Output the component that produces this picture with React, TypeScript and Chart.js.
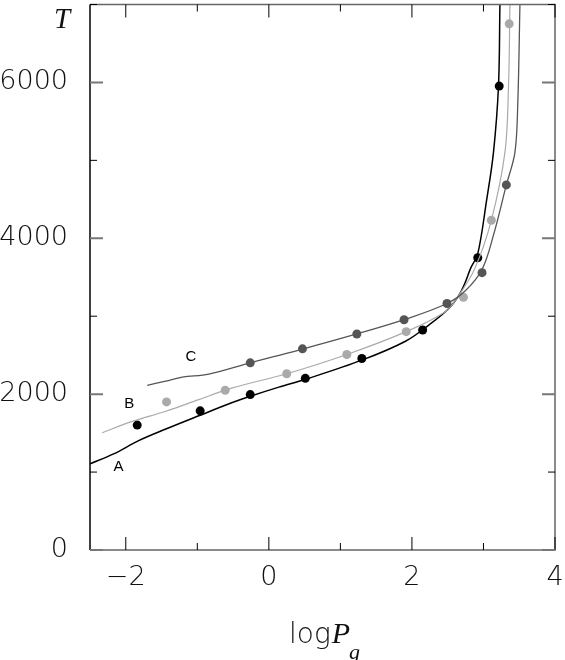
import React, { useEffect, useRef } from "react";
import { Chart, registerables } from "chart.js";

Chart.register(...registerables);

// ---- data (logPg, T) ----
const curveA_x = [-2.5, -2.17, -1.82, -1.44, -0.98, -0.51, -0.26, 0.14, 0.51, 1.3, 1.91, 2.24, 2.52, 2.66, 2.75, 2.82, 2.92, 3.04, 3.14, 3.21, 3.23];
const curveA_T = [1106, 1233, 1403, 1552, 1722, 1892, 1973, 2090, 2190, 2436, 2679, 2890, 3103, 3274, 3444, 3614, 3800, 4464, 5102, 5953, 7000];

const curveB_x = [-2.33, -1.91, -1.44, -0.98, -0.51, 0.25, 1.09, 1.92, 2.47, 2.66, 2.88, 3.11, 3.3, 3.35, 3.37];
const curveB_T = [1505, 1650, 1780, 1930, 2080, 2262, 2509, 2802, 3061, 3274, 3614, 4231, 5102, 5953, 7000];

const curveC_x = [-1.7, -1.44, -1.21, -0.84, -0.26, 0.42, 1.23, 1.89, 2.49, 2.75, 2.98, 3.14, 3.32, 3.44, 3.48, 3.51];
const curveC_T = [2113, 2168, 2219, 2258, 2402, 2565, 2772, 2955, 3163, 3330, 3600, 4040, 4685, 5102, 5740, 7000];

const dotsA_x = [-1.84, -0.96, -0.26, 0.51, 1.3, 2.15, 2.92, 3.22];
const dotsA_T = [1603, 1786, 1994, 2203, 2458, 2823, 3750, 5953];

const dotsB_x = [-1.43, -0.61, 0.25, 1.09, 1.92, 2.72, 3.11, 3.36];
const dotsB_T = [1900, 2050, 2262, 2509, 2802, 3244, 4231, 6752];

const dotsC_x = [-0.26, 0.47, 1.23, 1.89, 2.49, 2.98, 3.32];
const dotsC_T = [2402, 2581, 2772, 2955, 3163, 3559, 4685];

const curveNames = ["A", "B", "C"];
const curveName_x = [-2.1, -1.95, -1.09];
const curveName_T = [1065, 1875, 2474];

const xTicks = [-2, -1, 0, 1, 2, 3, 4];
const yTicks = [0, 1000, 2000, 3000, 4000, 5000, 6000, 7000];

const colA = "#000000";
const colB = "#aaaaaa";
const colC = "#555555";

const zip = (xs: number[], ys: number[]) => xs.map((x, i) => ({ x, y: ys[i] }));

const tickFont = "DejaVu Sans";

const decorPlugin = {
  id: "decor",
  afterDraw(chart: any) {
    const ctx = chart.ctx as CanvasRenderingContext2D;
    const { left, right, top, bottom } = chart.chartArea;
    const xs = chart.scales.x;
    const ys = chart.scales.y;
    ctx.save();
    // frame
    ctx.lineWidth = 1.5;
    ctx.strokeStyle = "#666";
    ctx.beginPath();
    ctx.moveTo(left, top);
    ctx.lineTo(right, top);
    ctx.lineTo(right, bottom);
    ctx.lineTo(left, bottom);
    ctx.stroke();
    ctx.strokeStyle = "#000";
    ctx.beginPath();
    ctx.moveTo(left, top);
    ctx.lineTo(left, bottom);
    ctx.stroke();
    // x ticks
    xTicks.forEach((v) => {
      const p = xs.getPixelForValue(v);
      const major = v % 2 === 0;
      const len = major ? 13 : 7;
      ctx.strokeStyle = "#000";
      ctx.lineWidth = 1;
      ctx.beginPath();
      ctx.moveTo(p, bottom);
      ctx.lineTo(p, bottom - len);
      ctx.moveTo(p, top);
      ctx.lineTo(p, top + len);
      ctx.stroke();
    });
    yTicks.forEach((v) => {
      const p = ys.getPixelForValue(v);
      const major = v % 2000 === 0;
      const len = major ? 13 : 7;
      ctx.strokeStyle = major ? "#777" : "#000";
      ctx.lineWidth = major ? 2 : 1;
      ctx.beginPath();
      ctx.moveTo(left, p);
      ctx.lineTo(left + len, p);
      ctx.moveTo(right, p);
      ctx.lineTo(right - len, p);
      ctx.stroke();
    });
    // curve names
    ctx.fillStyle = "#000";
    ctx.font = `15px "Liberation Sans"`;
    ctx.textAlign = "center";
    ctx.textBaseline = "middle";
    curveNames.forEach((n, i) => {
      ctx.fillText(n, xs.getPixelForValue(curveName_x[i]), ys.getPixelForValue(curveName_T[i]));
    });
    // axis titles
    ctx.textAlign = "left";
    ctx.textBaseline = "alphabetic";
    ctx.fillStyle = "#111";
    ctx.font = `italic 29px "Liberation Serif"`;
    ctx.fillText("T", 54, 28);
    ctx.font = `200 28px "${tickFont}"`;
    ctx.fillStyle = "#111";
    ctx.fillText("log", 289, 643);
    const wLog = ctx.measureText("log").width;
    ctx.font = `italic 30px "Liberation Serif"`;
    ctx.fillStyle = "#111";
    ctx.fillText("P", 289 + wLog + 1, 643);
    const wP = ctx.measureText("P").width;
    ctx.font = `italic 22px "Liberation Serif"`;
    ctx.fillText("g", 289 + wLog + 1 + wP - 1, 659);
    ctx.restore();
  },
};

const zeroPad = (s: any) => {
  s.paddingTop = 0;
  s.paddingBottom = 0;
  s.paddingLeft = 0;
  s.paddingRight = 0;
};

export default function App() {
  const ref = useRef<HTMLCanvasElement | null>(null);
  useEffect(() => {
    if (!ref.current) return;
    const lineDs = (xs: number[], ys: number[], color: string, w: number) => ({
      type: "line" as const,
      data: zip(xs, ys),
      borderColor: color,
      borderWidth: w,
      pointRadius: 0,
      showLine: true,
      tension: 0.35,
      fill: false,
    });
    const dotDs = (xs: number[], ys: number[], color: string) => ({
      type: "scatter" as const,
      data: zip(xs, ys),
      backgroundColor: color,
      borderColor: color,
      borderWidth: 0,
      pointRadius: 4.5,
      showLine: false,
    });
    const chart = new Chart(ref.current, {
      type: "scatter",
      data: {
        datasets: [
          lineDs(curveC_x, curveC_T, colC, 1.3),
          lineDs(curveB_x, curveB_T, colB, 1.2),
          lineDs(curveA_x, curveA_T, colA, 1.5),
          dotDs(dotsC_x, dotsC_T, colC),
          dotDs(dotsB_x, dotsB_T, colB),
          dotDs(dotsA_x, dotsA_T, colA),
        ] as any,
      },
      options: {
        animation: false,
        responsive: false,
        layout: { padding: { top: 1, right: 10, left: 0, bottom: 0 } },
        plugins: { legend: { display: false }, tooltip: { enabled: false } },
        scales: {
          x: {
            type: "linear",
            min: -2.5,
            max: 4,
            grid: { drawOnChartArea: false, drawTicks: false },
            border: { display: false },
            ticks: {
              stepSize: 1,
              includeBounds: false,
              autoSkip: false,
              maxRotation: 0,
              padding: 12,
              color: "#111",
              font: { family: tickFont, size: 27, weight: "200" as any },
              callback: (v: any) => (Number(v) % 2 === 0 ? String(v).replace("-", "\u2212") : ""),
            },
            afterFit: (s: any) => {
              s.height = 110;
              zeroPad(s);
            },
          },
          y: {
            type: "linear",
            min: 0,
            max: 7000,
            grid: { drawOnChartArea: false, drawTicks: false },
            border: { display: false },
            ticks: {
              stepSize: 1000,
              autoSkip: false,
              padding: 22,
              color: "#111",
              font: { family: tickFont, size: 27, weight: "200" as any },
              callback: (v: any) => (Number(v) % 2000 === 0 ? String(v) : ""),
            },
            afterFit: (s: any) => {
              s.width = 90;
              zeroPad(s);
            },
          },
        },
      },
      plugins: [decorPlugin],
    });
    return () => chart.destroy();
  }, []);
  return (
    <div style={{ position: "fixed", left: 0, top: 0, width: 565, height: 660, background: "#fff" }}>
      <canvas ref={ref} width={565} height={660} style={{ display: "block" }} />
    </div>
  );
}
